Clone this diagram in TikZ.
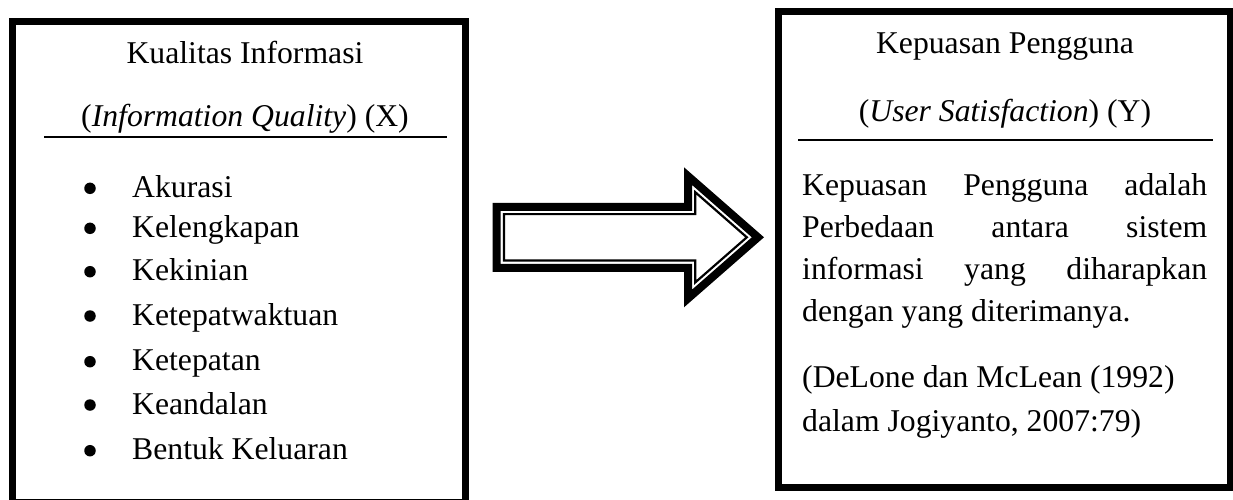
\documentclass[tikz,border=0pt]{standalone}
\usepackage{fontspec}
\setmainfont{Liberation Serif}
\newcommand\ArrowOutline[1]{({492.7+#1},{202.8+#1}) -- ({684+#1},{202.8+#1}) -- ({684+#1},{167.3+2.205*#1}) -- ({764-1.52*#1},237.3) -- ({684+#1},{307.3-2.205*#1}) -- ({684+#1},{271.8-#1}) -- ({492.7+#1},{271.8-#1}) -- cycle}
\tikzset{
  frame/.style={draw=black, line width=7pt, rectangle, inner sep=0pt},
  txt/.style={inner sep=0pt, anchor=base},
  ltxt/.style={inner sep=0pt, anchor=base west},
  dot/.style={circle, fill=black, inner sep=0pt, minimum size=11.5pt},
  rule/.style={line width=2pt},
}
\begin{document}
\begin{tikzpicture}[x=1pt,y=-1pt,font=\fontsize{31.7}{38}\selectfont]
\useasboundingbox (0,0) rectangle (1233,500);
% boxes
\node[frame, minimum width=452.5pt, minimum height=481.3pt] (lbox) at (238.75,261.85) {};
\node[frame, minimum width=451.6pt, minimum height=476.7pt] (rbox) at (1004.5,249.55) {};
% left box
\node[txt] (lt1) at (245,63.3) {Kualitas Informasi};
\node[txt] (lt2) at (245,126) {(\textit{Information Quality}) (X)};
\coordinate (ls1) at (44,137.3);
\coordinate (ls2) at (447,137.3);
\draw[rule] (ls1) -- (ls2);
\foreach \n/\yb/\t in {1/197.3/Akurasi, 2/237.3/Kelengkapan, 3/280.7/Kekinian, 4/325/Ketepatwaktuan, 5/370.7/Ketepatan, 6/414/Keandalan, 7/459.7/Bentuk Keluaran}{
  \node[dot] (b\n) at (90,{\yb-9}) {};
  \node[ltxt] (i\n) at (132,\yb) {\t};
}
% arrow
\draw[line width=8pt, line join=miter] \ArrowOutline{4};
\draw[line width=2.2pt, line join=miter] \ArrowOutline{11.3};
% right box
\node[txt] (rt1) at (1005,53.3) {Kepuasan Pengguna};
\node[txt] (rt2) at (1005,121.7) {(\textit{User Satisfaction}) (Y)};
\coordinate (rs1) at (798,140);
\coordinate (rs2) at (1213,140);
\draw[rule] (rs1) -- (rs2);
\node[ltxt] (p1) at (802,195) {\hbox to 405pt{Kepuasan\hfill Pengguna\hfill adalah}};
\node[ltxt] (p2) at (802,237.3) {\hbox to 405pt{Perbedaan\hfill antara\hfill sistem}};
\node[ltxt] (p3) at (802,279.3) {\hbox to 405pt{informasi\hfill yang\hfill diharapkan}};
\node[ltxt] (p4) at (802,321.7) {dengan yang diterimanya.};
\node[ltxt] (c1) at (802,387.5) {(DeLone dan McLean (1992)};
\node[ltxt] (c2) at (802,431.7) {dalam Jogiyanto, 2007:79)};
\end{tikzpicture}
\end{document}
